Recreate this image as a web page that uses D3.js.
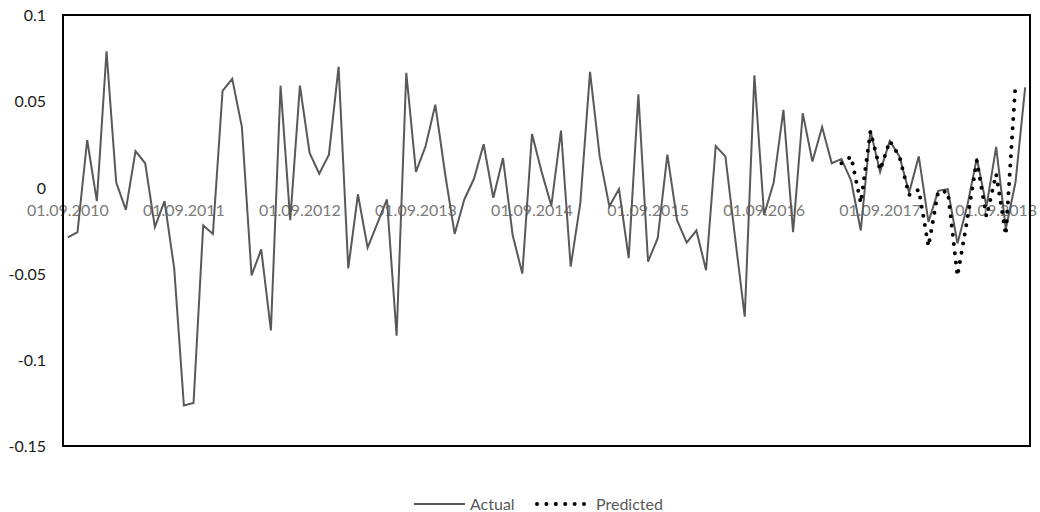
<!DOCTYPE html>
<html>
<head>
<meta charset="utf-8">
<script src="https://cdn.jsdelivr.net/npm/d3@7"></script>
<style>
  html, body { margin: 0; padding: 0; background: #fff; }
  svg { display: block; font-family: Lato, "Open Sans", sans-serif; }
</style>
</head>
<body>
<svg id="chart" width="1040" height="512"></svg>
<script>
// ---- data ----
const startYear = 2010, startMonth = 9, nMonths = 100;
const categories = [];
for (let k = 0; k < nMonths; k++) {
  const m = (startMonth - 1 + k) % 12 + 1;
  const y = startYear + Math.floor((startMonth - 1 + k) / 12);
  categories.push("01." + String(m).padStart(2, "0") + "." + y);
}
const tickLabels = ["01.09.2010","01.09.2011","01.09.2012","01.09.2013","01.09.2014","01.09.2015","01.09.2016","01.09.2017","01.09.2018"];
const yTicks = [0.1, 0.05, 0, -0.05, -0.1, -0.15];
const yTickLabels = ["0.1", "0.05", "0", "-0.05", "-0.1", "-0.15"];

const actual = [
  -0.029, -0.026, 0.0275, -0.008, 0.079, 0.003, -0.013, 0.021, 0.014, -0.023,
  -0.008, -0.047, -0.1265, -0.125, -0.022, -0.027, 0.056, 0.063, 0.035, -0.051,
  -0.036, -0.083, 0.059, -0.019, 0.059, 0.020, 0.008, 0.019, 0.070, -0.047,
  -0.004, -0.035, -0.021, -0.007, -0.086, 0.0665, 0.009, 0.024, 0.048, 0.0085,
  -0.027, -0.007, 0.005, 0.025, -0.006, 0.017, -0.0276, -0.050, 0.031, 0.009,
  -0.0106, 0.033, -0.046, -0.009, 0.067, 0.018, -0.011, -0.001, -0.041, 0.054,
  -0.043, -0.0295, 0.019, -0.019, -0.032, -0.025, -0.048, 0.024, 0.018, -0.029,
  -0.075, 0.065, -0.016, 0.003, 0.045, -0.026, 0.043, 0.015, 0.035, 0.014,
  0.0165, 0.004, -0.025, 0.033, 0.009, 0.027, 0.018, -0.003, 0.018, -0.020,
  -0.002, -0.001, -0.0325, -0.011, 0.017, -0.011, 0.0235, -0.024, 0.003, 0.058
];
const predictedStart = 80;
const predicted = [
  0.014, 0.0178, -0.009, 0.0325, 0.010, 0.027, 0.0178, -0.0044, -0.0013, -0.0342,
  -0.0025, -0.0025, -0.0514, -0.019, 0.0155, -0.017, 0.0078, -0.0276, 0.060
];
const seriesNames = ["Actual", "Predicted"];

// ---- layout ----
const svg = d3.select("#chart");
const plot = { left: 63, right: 1030, top: 15, bottom: 446 };

const x = d3.scaleBand().domain(categories).range([plot.left, plot.right]).paddingInner(0).paddingOuter(0);
const cx = c => x(c) + x.bandwidth() / 2;
const y = d3.scaleLinear().domain([-0.15, 0.1]).range([plot.bottom, plot.top]);

// y axis labels
const yAxis = d3.axisLeft(y).tickValues(yTicks).tickSize(0).tickPadding(0)
  .tickFormat((d, i) => yTickLabels[i]);
const gy = svg.append("g").attr("transform", `translate(${plot.left - 17},0)`).call(yAxis);
gy.select(".domain").remove();
gy.selectAll("text").attr("font-size", 16).attr("fill", "#1a1a1a")
  .attr("font-family", "Lato, sans-serif").attr("dy", "0.35em");

// x axis labels (at y = 0)
const xAxis = d3.axisBottom(x).tickValues(tickLabels).tickSize(0).tickPadding(0);
const gx = svg.append("g").attr("transform", `translate(0,${y(0)})`).call(xAxis);
gx.select(".domain").remove();
gx.selectAll("text").attr("font-size", 16).attr("fill", "#7a7a7a")
  .attr("font-family", "Lato, sans-serif").attr("dy", "28.5px");

// plot border
svg.append("rect")
  .attr("x", plot.left).attr("y", plot.top)
  .attr("width", plot.right - plot.left).attr("height", plot.bottom - plot.top)
  .attr("fill", "none").attr("stroke", "#000").attr("stroke-width", 2);

// actual line
const lineA = d3.line().x((d, i) => cx(categories[i])).y(d => y(d));
svg.append("path").datum(actual)
  .attr("d", lineA)
  .attr("fill", "none").attr("stroke", "#595959").attr("stroke-width", 2)
  .attr("stroke-linejoin", "miter");

// predicted line
const lineP = d3.line().x((d, i) => cx(categories[predictedStart + i])).y(d => y(d));
svg.append("path").datum(predicted)
  .attr("d", lineP)
  .attr("fill", "none").attr("stroke", "#000").attr("stroke-width", 4)
  .attr("stroke-linecap", "round").attr("stroke-dasharray", "0 9.3");

// legend
const lg = svg.append("g").attr("font-family", "Lato, sans-serif").attr("font-size", 16).attr("fill", "#595959");
const ly = 504;
lg.append("line").attr("x1", 414).attr("x2", 465).attr("y1", ly).attr("y2", ly)
  .attr("stroke", "#595959").attr("stroke-width", 2);
lg.append("text").attr("x", 470).attr("y", ly).attr("dy", "0.35em").text(seriesNames[0]);
lg.append("line").attr("x1", 537).attr("x2", 585).attr("y1", ly).attr("y2", ly)
  .attr("stroke", "#000").attr("stroke-width", 4)
  .attr("stroke-linecap", "round").attr("stroke-dasharray", "0 9.4");
lg.append("text").attr("x", 596).attr("y", ly).attr("dy", "0.35em").text(seriesNames[1]);
</script>
</body>
</html>
